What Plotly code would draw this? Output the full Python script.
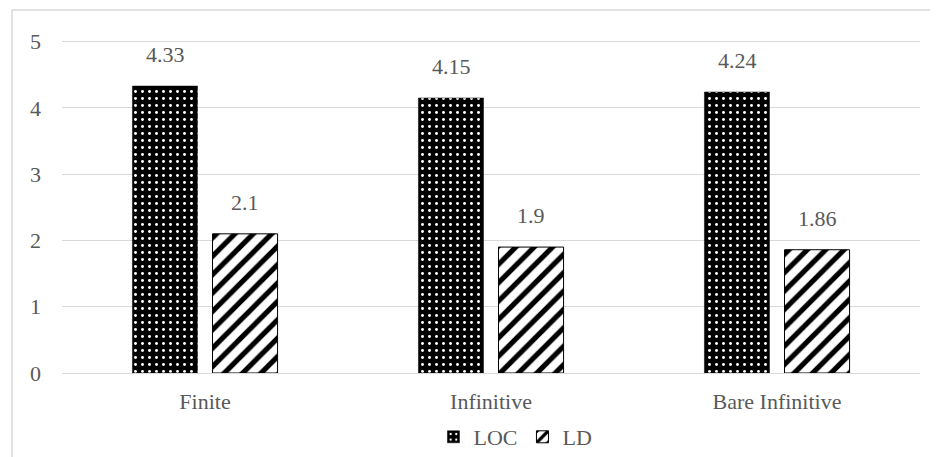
import plotly.graph_objects as go

categories = ["Finite", "Infinitive", "Bare Infinitive"]
loc_values = [4.33, 4.15, 4.24]
ld_values = [2.1, 1.9, 1.86]
y_ticks = [0, 1, 2, 3, 4, 5]

FONT = "Liberation Serif"
TXT = "#595959"
FS = 22

# plot area in figure pixels (page is offset by the 8px body margin)
L, R, T, B = 54, 26, 31, 92
PW, PH = 938 - L - R, 457 - T - B

fig = go.Figure()
fig.add_trace(go.Bar(
    name="LOC", x=categories, y=loc_values, offsetgroup="a",
    marker=dict(color="black", line=dict(color="black", width=0.5),
                pattern=dict(shape=".", fgcolor="white", bgcolor="black",
                             size=7, solidity=0.14, fillmode="replace")),
))
fig.add_trace(go.Bar(
    name="LD", x=categories, y=ld_values, offsetgroup="b",
    marker=dict(color="white", line=dict(color="black", width=1),
                pattern=dict(shape="/", fgcolor="black", bgcolor="white",
                             size=13, solidity=0.4, fillmode="replace")),
))

annotations = []
for vals, xshift in ((loc_values, -40), (ld_values, 40)):
    for c, v in zip(categories, vals):
        annotations.append(dict(x=c, y=v, xref="x", yref="y", text=str(v),
                                showarrow=False, yanchor="bottom", xshift=xshift,
                                yshift=17, font=dict(family=FONT, size=FS, color=TXT)))

fig.update_layout(
    width=938, height=457,
    margin=dict(l=L, r=R, t=T, b=B, autoexpand=False),
    paper_bgcolor="white", plot_bgcolor="white",
    barmode="group", bargap=0.44, bargroupgap=0.1875,
    font=dict(family=FONT, size=FS, color=TXT),
    showlegend=True,
    legend=dict(orientation="h", x=0.541, xanchor="center", xref="container",
                y=(457 - 429) / 457, yanchor="middle", yref="container",
                font=dict(family=FONT, size=FS, color=TXT), itemwidth=30,
                traceorder="normal"),
    annotations=annotations,
    shapes=[dict(type="rect", xref="paper", yref="paper",
                 x0=(4 - L) / PW, x1=(945 - L) / PW,
                 y0=(457 - B - 470) / PH, y1=(457 - B - 2) / PH,
                 line=dict(color="#d9d9d9", width=1.5), fillcolor="rgba(0,0,0,0)",
                 layer="below")],
)
fig.update_yaxes(range=[0, 5.04], tickvals=y_ticks, showgrid=True, gridcolor="#d9d9d9",
                 gridwidth=1.3, zeroline=False, showline=False, ticks="",
                 automargin=False,
                 ticklabelstandoff=20, tickfont=dict(family=FONT, size=FS, color=TXT))
fig.update_xaxes(showline=True, linecolor="#d9d9d9", linewidth=1.3, ticks="",
                 automargin=False,
                 ticklabelstandoff=8, tickfont=dict(family=FONT, size=FS, color=TXT))

fig.write_html("out.html")
